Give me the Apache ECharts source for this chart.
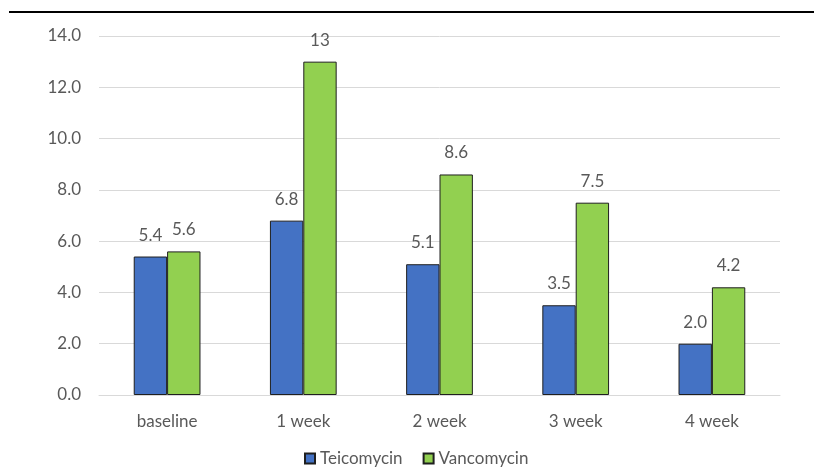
<!DOCTYPE html>
<html>
<head>
<meta charset="utf-8">
<script src="https://cdn.jsdelivr.net/npm/echarts@6/dist/echarts.min.js"></script>
<style>html,body{margin:0;padding:0;background:#fff;}#c{width:814px;height:475px;}</style>
</head>
<body>
<div id="c"></div>
<script>
var categories = ['baseline', '1 week', '2 week', '3 week', '4 week'];
var teicomycin = [5.4, 6.8, 5.1, 3.5, 2.0];
var vancomycin = [5.6, 13, 8.6, 7.5, 4.2];
var teicoLabels = ['5.4', '6.8', '5.1', '3.5', '2.0'];
var vancoLabels = ['5.6', '13', '8.6', '7.5', '4.2'];
var yTicks = [0, 2, 4, 6, 8, 10, 12, 14];

var FONT = 'Lato, "Noto Sans", sans-serif';
var FS = 17;
var chart = echarts.init(document.getElementById('c'));
function lbl(arr) {
  return { show: true, position: 'top', distance: 13, color: '#595959', fontSize: FS, fontFamily: FONT,
    formatter: function (p) { return arr[p.dataIndex]; } };
}
chart.setOption({
  animation: false,
  textStyle: { fontFamily: FONT },
  graphic: [{ type: 'rect', shape: { x: 9, y: 11, width: 805, height: 2 }, style: { fill: '#000' } }],
  grid: { left: 99, right: 34, top: 36, bottom: 80 },
  legend: {
    bottom: 3, left: 299, itemWidth: 10, itemHeight: 10, itemGap: 20,
    icon: 'rect',
    textStyle: { color: '#595959', fontSize: FS, fontFamily: FONT },
    data: ['Teicomycin', 'Vancomycin']
  },
  xAxis: {
    type: 'category', data: categories,
    axisLine: { lineStyle: { color: '#d9d9d9' } },
    axisTick: { show: false },
    axisLabel: { color: '#595959', fontSize: FS, margin: 18, fontFamily: FONT }
  },
  yAxis: {
    type: 'value', min: yTicks[0], max: yTicks[yTicks.length - 1], interval: 2,
    axisLine: { show: false }, axisTick: { show: false },
    splitLine: { lineStyle: { color: '#d9d9d9' } },
    axisLabel: { color: '#595959', fontSize: FS, margin: 18, fontFamily: FONT,
      formatter: function (v) { return v.toFixed(1); } }
  },
  series: [
    { name: 'Teicomycin', type: 'bar', data: teicomycin, barGap: '0%', barCategoryGap: '51%',
      itemStyle: { color: '#4472C4', borderColor: '#1f1f1f', borderWidth: 1 }, label: lbl(teicoLabels) },
    { name: 'Vancomycin', type: 'bar', data: vancomycin,
      itemStyle: { color: '#92D050', borderColor: '#1f1f1f', borderWidth: 1 }, label: lbl(vancoLabels) }
  ]
});
</script>
</body>
</html>
